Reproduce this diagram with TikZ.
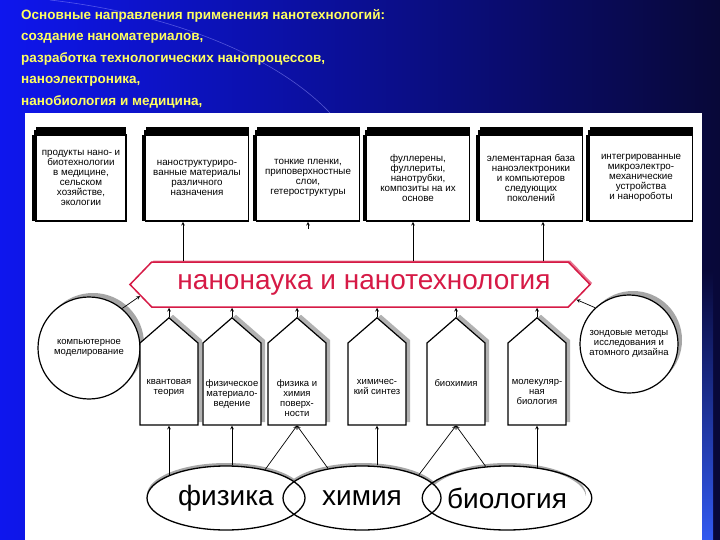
\documentclass[tikz,border=0pt]{standalone}
\usepackage{fontspec}
\setmainfont{Liberation Sans}
\usetikzlibrary{shapes.geometric, shapes.symbols, shadows, arrows}
\pgfdeclarelayer{back}
\pgfdeclarelayer{shade}
\pgfsetlayers{back,shade,main}

\definecolor{slideblue}{RGB}{14,22,238}
\definecolor{slidenavy}{RGB}{8,8,56}
\definecolor{slidelight}{RGB}{50,90,240}
\definecolor{titleyellow}{RGB}{255,255,96}
\definecolor{bannerred}{RGB}{214,26,70}

\tikzstyle{title} = [anchor=north west, inner sep=0pt, align=left, text=titleyellow, font=\bfseries\fontsize{13.5}{21.5}\selectfont]
\tikzstyle{field} = [rectangle, draw=black, line width=1.6pt, fill=white, minimum width=103, minimum height=86, inner sep=1pt, align=center, font=\fontsize{9.8}{10}\selectfont, general shadow={shadow xshift=-4pt, fill=black}, general shadow={shadow yshift=8pt, fill=black}, general shadow={shadow xshift=-2pt, shadow yshift=5pt, fill=black}]
\tikzstyle{banner} = [signal, signal to=west and east, signal pointer angle=92, draw=bannerred, line width=1.5pt, fill=white, text=bannerred, minimum width=460, minimum height=45, inner sep=0pt, font=\fontsize{28}{30}\selectfont, general shadow={shadow xshift=2pt, shadow yshift=1.5pt, fill=bannerred!60}]
\tikzstyle{tool} = [circle, draw=black, line width=1.2pt, fill=white, inner sep=0pt, align=center, font=\fontsize{9.5}{10}\selectfont, general shadow={shadow xshift=4pt, shadow yshift=4pt, fill=black!35}]
\tikzstyle{house} = [signal, signal to=north, signal from=nowhere, signal pointer angle=98, draw=black, line width=1.2pt, fill=white, minimum width=58, minimum height=82, inner sep=0pt, general shadow={shadow xshift=4pt, shadow yshift=3pt, fill=black!30}]
\tikzstyle{htext} = [anchor=north, yshift=46pt, align=center, inner sep=0pt, font=\fontsize{9.5}{10}\selectfont]
\tikzstyle{science} = [ellipse, draw=black, line width=1.3pt, minimum width=158, minimum height=64, inner sep=0pt, font=\fontsize{28}{30}\selectfont]
\tikzstyle{arrow} = [line width=0.7pt,->,>=stealth]

\begin{document}
\begin{tikzpicture}[x=1pt, y=-1pt]
    \useasboundingbox (0,0) rectangle (720,540);
    \begin{pgfonlayer}{back}
        \shade[left color=slideblue, right color=slidenavy] (0,0) rectangle (720,540);
        \shade[top color=slidenavy, bottom color=slidelight] (702,270) rectangle (713,540);
        \draw[blue!40!white, opacity=0.5, line width=0.6pt] (50,0) .. controls (180,15) and (280,60) .. (330,113);
        \fill[white] (25,113) rectangle (702,540);
    \end{pgfonlayer}

    \node (head) [title] at (21,9) {Основные направления применения нанотехнологий:\\создание наноматериалов,\\разработка технологических нанопроцессов,\\наноэлектроника,\\нанобиология и медицина,};

    % what nanotechnology gives
    \node (b1) [field, minimum width=90] at (81,178) {продукты нано- и\\биотехнологии\\в медицине,\\сельском\\хозяйстве,\\экологии};
    \node (b2) [field] at (197,178) {наноструктуриро-\\ванные материалы\\различного\\назначения};
    \node (b3) [field] at (308,178) {тонкие пленки,\\приповерхностные\\слои,\\гетероструктуры};
    \node (b4) [field] at (418,178) {фуллерены,\\фуллериты,\\нанотрубки,\\композиты на их\\основе};
    \node (b5) [field] at (531,178) {элементарная база\\наноэлектроники\\и компьютеров\\следующих\\поколений};
    \node (b6) [field] at (641,178) {интегрированные\\микроэлектро-\\механические\\устройства\\и нанороботы};

    \node (ban) [banner] at (360,284.5) {\hspace*{8pt}нанонаука и нанотехнология};

    \node (lc) [tool, minimum size=102] at (89,348) {компьютерное\\моделирование};
    \node (rc) [tool, minimum size=98] at (629,344) {зондовые методы\\исследования и\\атомного дизайна};

    % base disciplines
    \node (h1) [house, label={[htext]south:квантовая\\теория}] at (169,384) {};
    \node (h2) [house, label={[htext]south:физическое\\материало-\\ведение}] at (232,384) {};
    \node (h3) [house, label={[htext]south:физика и\\химия\\поверх-\\ности}] at (297,384) {};
    \node (h4) [house, label={[htext]south:химичес-\\кий синтез}] at (377,384) {};
    \node (h5) [house, label={[htext]south:биохимия}] at (456,384) {};
    \node (h6) [house, label={[htext]south:молекуляр-\\ная\\биология}] at (537,384) {};

    \node (fiz) [science] at (226,498) {физика};
    \node (him) [science] at (362,498) {химия};
    \node (bio) [science] at (507,498) {биология};

    \begin{pgfonlayer}{shade}
        \foreach \e in {fiz,him,bio}
            \fill[black!35] ([yshift=3pt]\e.center) ellipse (79 and 32);
        \foreach \e in {fiz,him,bio}
            \fill[white] (\e.center) ellipse (79 and 32);
    \end{pgfonlayer}

    \coordinate (t2) at ([xshift=-14pt]b2.south);
    \coordinate (t3) at ([yshift=-7pt]b3.south);
    \coordinate (t4) at ([xshift=-5pt]b4.south);
    \coordinate (t5) at ([xshift=12pt]b5.south);
    \draw [arrow] (t2 |- ban.north) -- (t2);
    \draw [arrow] (t3) -- (b3.south);
    \draw [arrow] (t4 |- ban.north) -- (t4);
    \draw [arrow] (t5 |- ban.north) -- (t5);

    \draw [arrow] (lc.50) -- (ban.183);
    \draw [arrow] (rc.133) -- (ban.356);

    \foreach \h in {h1,h2,h3,h4,h5,h6}
        \draw [arrow] (\h.north) -- (\h.north |- ban.south);

    \draw [arrow] (h1.south |- fiz.159) -- (h1.south);
    \draw [arrow] (h2.south |- fiz.north) -- (h2.south);
    \draw [arrow] (fiz.36) -- (h3.south);
    \draw [arrow] (him.139) -- (h3.south);
    \draw [arrow] (h4.south |- him.north) -- (h4.south);
    \draw [arrow] (him.22) -- (h5.south);
    \draw [arrow] (bio.124) -- (h5.south);
    \draw [arrow] (h6.south |- bio.45) -- (h6.south);
\end{tikzpicture}
\end{document}
